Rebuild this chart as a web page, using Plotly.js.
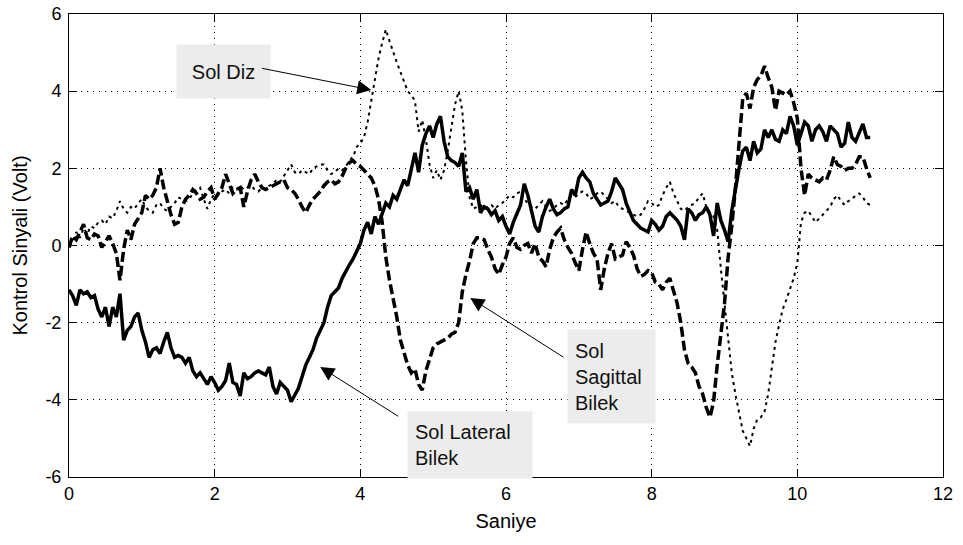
<!DOCTYPE html>
<html>
<head>
<meta charset="utf-8">
<script src="https://cdn.plot.ly/plotly-3.0.1.min.js"></script>
<style>html,body{margin:0;padding:0;background:#fff;}#chart{width:963px;height:545px;}</style>
</head>
<body>
<div id="chart"></div>
<script>
// sampling of the three control signals (seconds)
const tStart = 0;
const tStep = 0.05;

// Sol Lateral Bilek (solid)
const solLateralBilek = [
-1.15,-1.3,-1.55,-1.15,-1.25,-1.2,-1.35,-1.3,-1.65,-1.85,-1.6,-2.1,-1.6,-1.85,-1.25,-2.45,-2.2,-2.1,-1.85,-1.75,
-2.2,-2.5,-2.9,-2.7,-2.65,-2.8,-2.5,-2.25,-2.65,-2.9,-2.85,-2.9,-3.05,-2.9,-3.25,-3.4,-3.3,-3.45,-3.6,-3.4,
-3.55,-3.75,-3.65,-3.5,-3.05,-3.55,-3.6,-3.9,-3.3,-3.45,-3.4,-3.3,-3.25,-3.3,-3.35,-3.15,-3.65,-3.85,-3.55,-3.65,
-3.75,-4.05,-3.85,-3.7,-3.4,-3.1,-2.9,-2.7,-2.4,-2.2,-2.0,-1.6,-1.3,-1.2,-1.1,-0.85,-0.65,-0.5,-0.35,-0.15,
0.05,0.4,0.6,0.3,0.75,0.55,0.8,1.1,1.0,1.3,1.2,1.45,1.7,1.55,2.0,2.4,1.9,2.6,2.9,3.1,
2.8,3.15,3.35,2.7,2.3,2.2,2.15,2.05,2.4,1.4,1.5,1.2,1.45,0.85,1.0,0.95,0.8,0.9,0.65,0.75,
0.5,0.3,0.6,0.85,1.05,1.6,1.3,0.9,0.5,0.35,0.75,1.0,1.2,0.95,0.8,0.85,0.95,1.0,1.45,1.3,
1.75,1.9,1.75,1.65,1.35,1.2,1.05,1.1,1.15,1.4,1.75,1.6,1.45,1.1,0.85,0.65,0.55,0.45,0.4,0.35,
0.65,0.55,0.4,0.5,0.75,0.85,0.75,0.65,0.5,0.15,0.95,0.85,0.65,0.8,0.85,1.0,0.8,0.25,1.1,0.65,
0.4,0.1,0.9,1.5,2.0,2.45,2.55,2.2,2.7,2.4,2.5,3.0,2.8,3.0,2.75,2.7,3.0,2.9,3.35,3.1,
2.6,2.9,3.2,3.1,2.7,3.0,3.1,2.95,2.7,3.1,3.0,2.9,2.55,2.65,3.2,2.8,2.7,2.9,3.15,2.8,
2.8
];

// Sol Sagittal Bilek (dashed)
const solSagittalBilek = [
-0.05,0.25,0.15,0.35,0.55,0.2,0.15,0.3,0.25,-0.05,0.1,0.25,0.05,-0.2,-0.9,-0.1,0.4,0.15,0.55,0.7,
0.85,1.3,1.2,1.3,1.5,2.0,1.5,1.15,0.8,0.55,0.6,1.0,1.2,1.3,1.45,1.35,1.2,1.25,1.4,1.5,
1.2,1.35,1.5,1.85,1.6,1.35,1.45,1.5,1.0,1.4,1.7,1.85,1.65,1.5,1.45,1.5,1.55,1.6,1.65,1.7,
1.5,1.45,1.35,1.2,1.0,0.85,1.05,1.2,1.3,1.4,1.55,1.65,1.7,1.6,1.65,1.8,2.0,2.15,2.2,2.1,
2.05,1.95,1.85,1.75,1.55,1.2,0.6,-0.3,-0.9,-1.35,-1.85,-2.45,-2.75,-3.1,-3.3,-3.2,-3.6,-3.75,-3.25,-2.95,
-2.65,-2.55,-2.5,-2.45,-2.4,-2.3,-2.25,-2.0,-1.2,-0.75,-0.4,0.05,0.2,0.2,0.15,-0.1,-0.3,-0.6,-0.75,-0.5,
-0.3,0.05,0.2,-0.05,-0.1,0.0,0.05,-0.2,0.05,-0.3,-0.4,-0.55,-0.1,0.2,0.35,0.45,0.15,-0.05,-0.2,-0.45,
-0.65,-0.1,0.35,0.05,-0.2,-0.35,-1.15,-0.6,-0.2,0.05,-0.35,-0.3,-0.25,0.1,-0.05,-0.25,-0.6,-0.8,-0.75,-0.65,
-0.7,-0.95,-1.0,-1.15,-0.95,-0.85,-1.2,-1.5,-2.0,-2.7,-3.05,-3.15,-3.3,-3.65,-3.85,-4.2,-4.45,-4.05,-3.1,-2.2,
-1.5,-0.3,0.5,1.5,2.6,3.8,3.95,3.55,4.1,4.3,4.4,4.65,4.35,4.1,3.5,4.0,3.95,3.9,4.0,3.7,
3.3,2.0,1.3,1.85,1.75,1.7,1.65,1.75,1.7,1.95,2.3,2.1,2.05,1.95,2.0,2.0,2.1,2.3,2.3,2.0,
1.75
];

// Sol Diz (dotted)
const solDiz = [
0.0,0.1,0.35,0.2,0.45,0.3,0.5,0.45,0.6,0.65,0.55,0.75,0.7,0.9,1.15,0.95,0.85,1.0,0.95,1.1,
1.2,1.0,0.9,0.85,1.05,1.1,0.95,0.9,1.0,1.1,1.25,1.2,1.15,1.2,1.35,1.45,1.5,1.2,0.95,1.2,
1.35,1.3,1.4,1.45,1.35,1.5,1.45,1.55,1.45,1.5,1.55,1.45,1.4,1.5,1.45,1.55,1.6,1.7,1.65,1.8,
1.95,2.1,1.9,1.85,1.95,1.9,1.85,2.0,2.05,2.1,2.1,1.95,1.85,1.9,2.0,1.95,2.05,2.2,2.3,2.55,
2.65,2.8,3.2,3.75,4.3,4.85,5.25,5.6,5.3,5.0,4.75,4.5,4.25,4.0,3.9,3.75,2.95,3.25,2.75,2.1,
1.75,1.95,1.7,1.95,2.45,3.1,3.65,4.0,3.5,2.2,1.25,0.95,1.0,1.05,0.95,1.0,1.05,0.95,1.05,1.1,
1.2,1.3,1.25,1.35,1.4,1.2,1.1,1.0,0.95,1.05,1.15,1.0,0.9,0.95,1.05,1.1,1.05,1.2,1.3,1.25,
1.35,1.4,1.35,1.2,1.25,1.35,1.4,1.3,1.2,1.1,1.15,1.0,0.95,0.9,0.85,0.8,0.75,0.8,0.95,1.15,
1.1,1.0,1.05,1.3,1.5,1.65,1.35,1.15,0.95,0.9,1.0,1.05,1.1,1.25,1.35,1.0,0.85,0.75,0.4,-0.6,
-1.45,-2.4,-3.3,-3.85,-4.3,-4.8,-5.0,-5.2,-4.75,-4.5,-4.45,-4.3,-3.85,-3.1,-2.5,-2.05,-1.65,-1.4,-1.15,-0.85,
-0.45,0.6,0.85,0.9,0.75,0.6,0.7,0.8,0.9,1.0,1.2,1.3,1.15,1.05,1.15,1.2,1.3,1.35,1.25,1.1,
1.05
];

const xTicks = [0, 2, 4, 6, 8, 10, 12];
const yTicks = [-6, -4, -2, 0, 2, 4, 6];
const xTitle = 'Saniye';
const yTitle = 'Kontrol Sinyali (Volt)';
const labelSolDiz = 'Sol Diz';
const labelSagittal = 'Sol<br>Sagittal<br>Bilek';
const labelLateral = 'Sol Lateral<br>Bilek';

const FONT = '"Liberation Sans", Arial, Helvetica, sans-serif';

const traces = [
  {type: 'scatter', mode: 'lines', name: 'Sol Diz', x0: tStart, dx: tStep, y: solDiz,
   line: {color: '#000', width: 2, dash: '3px,4px'}},
  {type: 'scatter', mode: 'lines', name: 'Sol Sagittal Bilek', x0: tStart, dx: tStep, y: solSagittalBilek,
   line: {color: '#000', width: 3.5, dash: '10px,4px'}},
  {type: 'scatter', mode: 'lines', name: 'Sol Lateral Bilek', x0: tStart, dx: tStep, y: solLateralBilek,
   line: {color: '#000', width: 3.5}}
];

const axisCommon = {
  showline: true, linecolor: '#000', linewidth: 1, mirror: 'allticks',
  ticks: 'inside', ticklen: 8, tickwidth: 1, tickcolor: '#000',
  showgrid: true, gridcolor: '#000', gridwidth: 1, griddash: '1px,5px',
  zeroline: false, tickfont: {family: FONT, size: 18, color: '#000'},
  tickmode: 'array'
};

const arrowCommon = {text: '', showarrow: true, arrowhead: 2, arrowsize: 2.8, arrowwidth: 1,
  arrowcolor: '#000', axref: 'x', ayref: 'y', xref: 'x', yref: 'y'};
const boxCommon = {showarrow: false, xref: 'x', yref: 'y', bgcolor: '#ececec',
  font: {family: FONT, size: 20, color: '#111'}, xanchor: 'center', yanchor: 'middle'};

const layout = {
  width: 963, height: 545,
  margin: {l: 69, r: 20, t: 14, b: 68},
  paper_bgcolor: '#fff', plot_bgcolor: '#fff',
  showlegend: false, hovermode: false,
  xaxis: Object.assign({}, axisCommon, {range: [0, 12], tickvals: xTicks, ticktext: xTicks.map(String),
    title: {text: xTitle, font: {family: FONT, size: 20, color: '#000'}, standoff: 11}}),
  yaxis: Object.assign({}, axisCommon, {range: [-6, 6], tickvals: yTicks, ticktext: yTicks.map(String),
    ticklabelstandoff: 3,
    title: {text: yTitle, font: {family: FONT, size: 20, color: '#000'}, standoff: 12}}),
  annotations: [
    Object.assign({}, boxCommon, {x: 2.12, y: 4.51, text: labelSolDiz, width: 81, height: 41, borderpad: 6, align: 'center'}),
    Object.assign({}, boxCommon, {x: 5.51, y: -5.17, text: labelLateral, width: 110, height: 52, borderpad: 7, align: 'left'}),
    Object.assign({}, boxCommon, {x: 7.45, y: -3.4, text: labelSagittal, width: 73, height: 79, borderpad: 7, align: 'left'}),
    Object.assign({}, arrowCommon, {x: 4.15, y: 4.03, ax: 2.63, ay: 4.6}),
    Object.assign({}, arrowCommon, {x: 5.51, y: -1.36, ax: 6.81, ay: -2.92}),
    Object.assign({}, arrowCommon, {x: 3.45, y: -3.15, ax: 4.54, ay: -4.45})
  ]
};

Plotly.newPlot('chart', traces, layout, {staticPlot: true, displayModeBar: false});
</script>
</body>
</html>
